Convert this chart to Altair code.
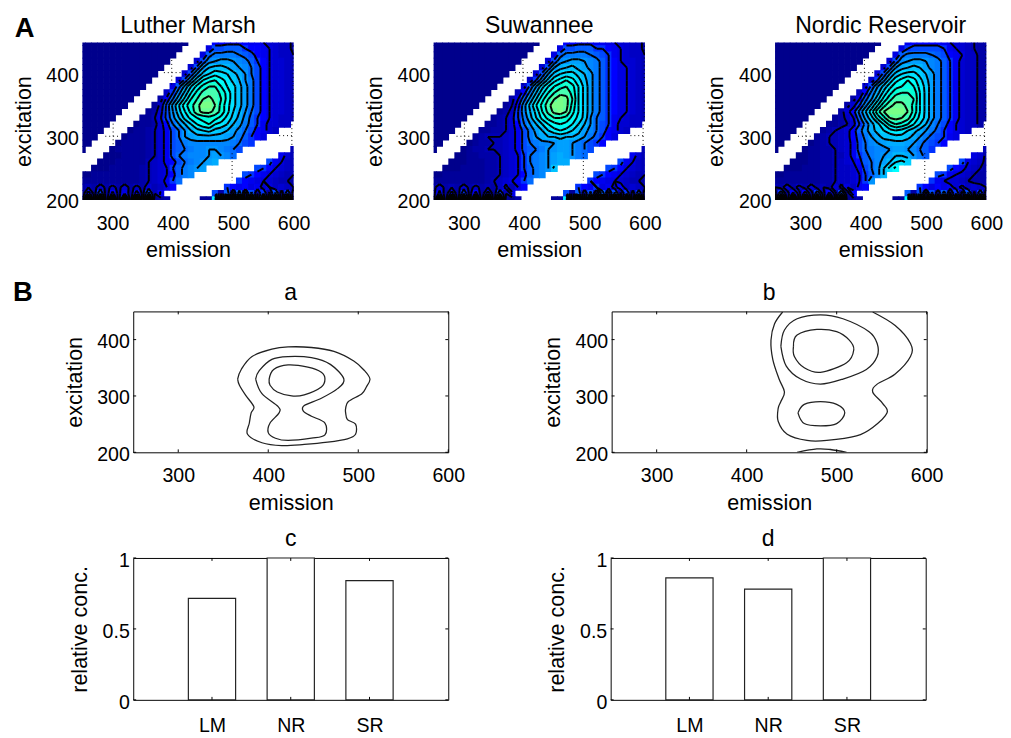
import altair as alt
import pandas as pd

alt.data_transformers.disable_max_rows()

FONT = "Liberation Sans"
EMISSION = list(range(250, 601, 10))
EXCITATION = list(range(450, 199, -10))
CODES = "0123456789abcdefghijklmnopqrstuvwxyz"
LEVELS = [3, 6, 9, 12, 15, 18, 21, 24, 27, 30, 33]

# one row per excitation (450 ... 200), one code per emission (250 ... 600); "." = masked scatter
LUTHER = [
    "00000 00000 00000 000.. ..888 88877 65544 2",
    "00000 00000 00000 00... .6aab bb988 76544 2",
    "00000 00000 00000 0.... 6bddd dcba8 76544 3",
    "00000 00000 00000 ....5 aefgg fedb9 86554 3",
    "00000 00000 0000. ...5a fijji gfeca 86554 3",
    "00000 00000 000.. ..5af jlnml jhfca 86554 3",
    "00000 00000 00... .5afk oqrpn kifda 86554 3",
    "00000 00000 0.... 6bglp suuro mjgda 86554 3",
    "00000 00000 ....4 9ejos vwwtq mjgda 86554 3",
    "00000 0000. ...27 chmru xywuq mjgda 86554 3",
    "00000 000.. ..14a glqtw zzxtp mjgda 86554 3",
    "00000 00... .125a fkosw yywtp lifca 86554 3",
    "00000 0.... 1136a eimpr stsqn kheb9 86544 3",
    "00000 ....0 11258 cfilo qronl igdb9 75544 .",
    "0000. ...01 12357 acfik lmkji geca8 754.. .",
    "000.. ..011 12357 acfgh hhhhg fdb98 6.... .",
    "00... .0111 12357 abdee eeeee dca9. ..... .",
    "0.... 01111 12357 abcde effed ca... ..... 3",
    "....0 00111 12357 acdee efgfe c.... ...75 3",
    "...00 01111 13457 8acde fgh.. ..... .a764 3",
    "..000 11111 23456 9bdef g.... ....a 98654 3",
    "00111 11111 23456 8bde. ..... ..a98 76543 3",
    "11111 11111 23457 9c... ..... .9876 65433 2",
    "23252 42524 25346 8.... ....9 87867 56454 3",
    "18291 72618 2a37. ..... ..a2b 2b1a3 92a19 1",
    "0n1p0 m0n1o 0n012 ..... 11n0p 0m1n0 p0n1m 0",
]
SUWANNEE = [
    "00000 00000 00000 000.. ..888 88776 65544 2",
    "00000 00000 00000 00... .6aab bb998 76544 2",
    "00000 00000 00000 0.... 6bddd dcba9 76544 3",
    "00000 00000 00000 ....5 aefgg fedb9 86554 3",
    "00000 00000 0000. ...5a fhijh gedb9 86654 3",
    "00000 00000 000.. ..5af jlmmk igdb9 86654 3",
    "00000 00000 00... .49ej nprpm jgdb9 86654 3",
    "00000 00000 0.... 5afko rtuso kgdb9 86654 3",
    "00000 00000 ....3 8dinr uwwto kgdb9 86654 3",
    "00000 0000. ...26 bglqu xzyuo kgdb9 86654 3",
    "00000 000.. ..138 ejosw zzyto kgdb9 86654 3",
    "00000 00... .1249 eimrv yzxso kgdb9 86654 3",
    "00000 0.... 12359 dhlps uutqn kfcb9 76544 3",
    "00000 ....1 12358 cfilo qrqol ifca9 75544 .",
    "0000. ...11 22357 adgil nonlj geca8 754.. .",
    "000.. ..123 33457 adfhi ijiih fdb98 6.... .",
    "00... .0122 33457 acdee fggfd ca98. ..... .",
    "0.... 01223 33457 abcdf fggfd ca... ..... 3",
    "....0 01122 23456 9cdef ghgfd c.... ...75 3",
    "...00 01112 23456 9cdef ghh.. ..... .a764 3",
    "..000 11112 23456 9bdef j.... ....a 98654 3",
    "00111 11112 23456 8bde. ..... ..a98 76543 3",
    "11111 11112 34567 9c... ..... .9876 65433 2",
    "25232 52423 24736 8.... ....9 87967 58454 3",
    "27181 92718 1937. ..... ..a1b 3a2b1 a2919 1",
    "1m0o1 n0p1m 0o102 ..... 11n1m 1p0n1 o1m0n 0",
]
NORDIC = [
    "00000 00000 00000 000.. ..788 88876 55432 2",
    "00000 00000 00000 00... .69aa aaa97 65432 2",
    "00000 00000 00000 0.... 6bddd dcba8 76442 2",
    "00000 00000 00000 ....5 aefgg fedb9 75442 2",
    "00000 00000 0000. ...5a fhiji gedb9 75442 2",
    "00000 00000 000.. ..5af jlmmk igdb9 75442 2",
    "00000 00000 00... .49ej nprpm jgdb9 75442 2",
    "00000 00000 0.... 5afjn qrsrn kgdb9 75442 2",
    "00000 00000 ....3 8dhmq tuuto kgdb9 75442 2",
    "00000 0000. ...26 bfkpt wwwuo kgdb9 75442 2",
    "00000 000.. ..259 ejotw yywto kgdb9 75442 2",
    "00000 00... .258d intxz zzxto kgdb9 75442 2",
    "00000 0.... 1246b gkptx yxvrn kgdb9 75442 2",
    "00000 ....1 12359 dhkos utrol ieca8 65442 .",
    "0000. ...12 3458b ehjln onljh fdb98 654.. .",
    "000.. ..123 3458a dfhjj kkjhf dba97 6.... .",
    "00... .0123 3457a cefgh hhgfd ba98. ..... .",
    "0.... 01122 3457a cdeef ggfec b9... ..... 3",
    "....0 01122 33579 bdefg iihfd b.... ...65 2",
    "...00 01122 34568 bcegi lmk.. ..... .a654 2",
    "..000 11122 34457 aceim p.... ....a 87543 2",
    "00111 11122 34456 9bei. ..... ..a97 65432 2",
    "11111 11122 34456 9f... ..... .9765 54322 2",
    "32524 25232 52647 8.... ....9 86867 57454 3",
    "29172 81927 2a18. ..... ..b2a 1a3b2 91a29 1",
    "0p1n0 o1m0n 1p012 ..... 11p1n 0o1m0 n1p0o 1",
]
# dotted artefact lines inside the masked bands: em1, ex1, em2, ex2
DOTTED = [
    (301, 321, 301, 287), (288, 301, 312, 301), (398, 422, 398, 380), (385, 402, 417, 402),
    (498, 274, 498, 230), (576, 302, 597, 302), (597, 320, 597, 284), (599, 325, 599, 450),
]

# component a
A_OUTER_EM = [366, 370, 382, 404, 422, 448, 473, 495, 507, 513, 509, 504, 489, 486, 486, 488, 497, 497, 488, 466, 440, 415, 393, 377, 379, 381, 384, 375, 368, 366]
A_OUTER_EX = [330, 347, 370, 383, 387, 386, 379, 362, 345, 330, 316, 304, 290, 278, 270, 258, 250, 232, 224, 218, 214, 212, 217, 232, 252, 270, 281, 301, 319, 330]
A_MID_EM = [386, 390, 404, 422, 448, 469, 484, 477, 459, 440, 439, 448, 463, 463, 448, 422, 408, 400, 402, 412, 411, 393, 386]
A_MID_EX = [330, 345, 365, 370, 368, 356, 330, 313, 296, 283, 273, 264, 252, 231, 225, 221, 225, 235, 252, 270, 281, 304, 330]
A_IN_EM = [401, 406, 422, 444, 459, 463, 459, 440, 426, 410, 402, 401]
A_IN_EX = [330, 347, 355, 351, 342, 330, 316, 302, 300, 307, 319, 330]
# component b
B_OUTER_EM = [440, 431, 427, 429, 436, 442, 438, 435, 435, 445, 467, 489, 522, 540, 556, 551, 540, 545, 565, 582, 582, 565, 540]
B_OUTER_EX = [449, 428, 399, 365, 330, 307, 290, 278, 255, 232, 221, 221, 229, 244, 270, 287, 307, 321, 339, 370, 393, 425, 449]
B_MID_EM = [438, 442, 456, 482, 507, 536, 545, 545, 533, 507, 482, 460, 444, 438]
B_MID_EX = [388, 417, 437, 444, 437, 414, 393, 370, 347, 330, 321, 330, 353, 388]
B_IN_EM = [452, 456, 478, 500, 514, 519, 511, 482, 464, 453, 452]
B_IN_EX = [388, 408, 418, 414, 399, 382, 359, 342, 350, 370, 388]
B_LOBE_EM = [457, 464, 482, 500, 509, 500, 482, 464, 457]
B_LOBE_EX = [270, 285, 290, 285, 270, 251, 247, 251, 270]
B_ARC_EM = [456, 478, 493, 511]
B_ARC_EX = [200, 206, 205, 200]

BAR_LABELS = ["LM", "NR", "SR"]
BARS_C = [0.715, 1.0, 0.84]
BARS_D = [0.86, 0.78, 1.0]


def grid(rows):
    out = []
    for r in rows:
        s = r.replace(" ", "")
        s = (s + "." * 36)[:36]
        out.append([None if ch == "." else CODES.index(ch) for ch in s])
    return out


def contour_segments(g):
    segs = []
    for j in range(len(g) - 1):
        for i in range(len(g[0]) - 1):
            a, b, c, d = g[j][i], g[j][i + 1], g[j + 1][i + 1], g[j + 1][i]
            if None in (a, b, c, d):
                continue
            x0, x1 = EMISSION[i], EMISSION[i + 1]
            y0, y1 = EXCITATION[j], EXCITATION[j + 1]
            for L in LEVELS:
                pts = []
                if (a >= L) != (b >= L):
                    pts.append((x0 + (L - a) / (b - a) * (x1 - x0), y0))
                if (b >= L) != (c >= L):
                    pts.append((x1, y0 + (L - b) / (c - b) * (y1 - y0)))
                if (c >= L) != (d >= L):
                    pts.append((x1 + (L - c) / (d - c) * (x0 - x1), y1))
                if (d >= L) != (a >= L):
                    pts.append((x0, y1 + (L - d) / (a - d) * (y0 - y1)))
                for k in range(0, len(pts) - 1, 2):
                    segs.append({"x": pts[k][0], "y": pts[k][1], "x2": pts[k + 1][0], "y2": pts[k + 1][1]})
    return pd.DataFrame(segs)


def cells(g):
    rec = []
    for j, row in enumerate(g):
        for i, v in enumerate(row):
            if v is not None:
                rec.append({"x": EMISSION[i] - 5.6, "x2": EMISSION[i] + 5.6,
                            "y": EXCITATION[j] - 5.6, "y2": EXCITATION[j] + 5.6, "c": v})
    return pd.DataFrame(rec)


X_SCALE = alt.Scale(domain=[250, 600], nice=False, zero=False)
Y_SCALE = alt.Scale(domain=[200, 450], nice=False, zero=False)
JET = alt.Scale(domain=[0, 8, 25, 35], range=["#00008c", "#0000ff", "#00ffff", "#78ff88"])


def x_axis(title="emission", values=(300, 400, 500, 600), label_pad=14, **kw):
    return alt.Axis(values=list(values), title=title, domain=False, ticks=False, grid=False,
                    labelFont=FONT, labelFontSize=20, labelColor="black", labelPadding=label_pad, labelAngle=0,
                    labelOverlap=False, labelFlush=False, labelBound=False, titleFont=FONT, titleFontSize=22,
                    titleFontWeight="normal", titleColor="black", titlePadding=7, **kw)


def y_axis(title="excitation", values=(200, 300, 400), offset=2, **kw):
    return alt.Axis(values=list(values), title=title, domain=False, ticks=False, grid=False,
                    labelFont=FONT, labelFontSize=20, labelColor="black", labelPadding=4, labelOffset=offset,
                    labelOverlap=False, labelFlush=False, labelBound=False, titleFont=FONT, titleFontSize=22,
                    titleFontWeight="normal", titleColor="black", titlePadding=11, **kw)


EEM_X = x_axis()
EEM_Y = y_axis()
BAR_AX_X = x_axis(title=None, values=(1, 2, 3), label_pad=16,
                  labelExpr="datum.value==1?'%s':datum.value==2?'%s':'%s'" % tuple(BAR_LABELS))
BAR_AX_Y = y_axis(title="relative conc.", values=(0, 0.5, 1), offset=3, format="~g")


def caption(text, w, dy):
    return alt.Chart(pd.DataFrame({"t": [text]})).mark_text(
        font=FONT, fontSize=23.5, align="center", baseline="alphabetic", color="black"
    ).encode(x=alt.value(w / 2), y=alt.value(dy), text="t:N")


def letter(text, dx, dy):
    return alt.Chart(pd.DataFrame({"t": [text]})).mark_text(
        font=FONT, fontSize=28, fontWeight="bold", align="left", baseline="alphabetic", color="black"
    ).encode(x=alt.value(dx), y=alt.value(dy), text="t:N")


def eem(name, rows, extra=None):
    g = grid(rows)
    base = alt.Chart(cells(g)).mark_rect(clip=True).encode(
        x=alt.X("x:Q", scale=X_SCALE, axis=EEM_X),
        x2="x2:Q",
        y=alt.Y("y:Q", scale=Y_SCALE, axis=EEM_Y),
        y2="y2:Q",
        color=alt.Color("c:Q", scale=JET, legend=None),
    )
    lines = alt.Chart(contour_segments(g)).mark_rule(color="black", strokeWidth=2, clip=True).encode(
        x=alt.X("x:Q", scale=X_SCALE, axis=EEM_X), x2="x2:Q",
        y=alt.Y("y:Q", scale=Y_SCALE, axis=EEM_Y), y2="y2:Q",
    )
    dots = alt.Chart(pd.DataFrame(DOTTED, columns=["x", "y", "x2", "y2"])).mark_rule(
        color="black", strokeWidth=1, strokeDash=[1, 3], clip=True
    ).encode(
        x=alt.X("x:Q", scale=X_SCALE, axis=EEM_X), x2="x2:Q",
        y=alt.Y("y:Q", scale=Y_SCALE, axis=EEM_Y), y2="y2:Q",
    )
    layers = [base, lines, dots, caption(name, 216, -10)]
    if extra is not None:
        layers.append(extra)
    return alt.layer(*layers).properties(width=216, height=161)


def inward_ticks(xs, ys, x_scale, y_scale, x_ax, y_ax, w, h):
    top = pd.DataFrame({"t": xs})
    side = pd.DataFrame({"t": ys})
    out = []
    for a, b in ((h, h - 3), (0, 3)):
        out.append(alt.Chart(top).mark_rule(color="black", strokeWidth=1).encode(
            x=alt.X("t:Q", scale=x_scale, axis=x_ax), y=alt.value(a), y2=alt.value(b)))
    for a, b in ((0, 3), (w, w - 3)):
        out.append(alt.Chart(side).mark_rule(color="black", strokeWidth=1).encode(
            y=alt.Y("t:Q", scale=y_scale, axis=y_ax), x=alt.value(a), x2=alt.value(b)))
    return out


FRAME = alt.ViewBackground(stroke="black", strokeWidth=1)


def loops(named):
    rec = []
    for n, (ems, exs) in enumerate(named):
        for i, (a, b) in enumerate(zip(ems, exs)):
            rec.append({"loop": n, "i": i, "em": a, "ex": b})
    return pd.DataFrame(rec)


def component(name, named, extra=None):
    line = alt.Chart(loops(named)).mark_line(color="#222222", strokeWidth=1.3, clip=True, interpolate="cardinal").encode(
        x=alt.X("em:Q", scale=X_SCALE, axis=EEM_X),
        y=alt.Y("ex:Q", scale=Y_SCALE, axis=EEM_Y),
        detail="loop:N",
        order="i:Q",
    )
    layers = [line] + inward_ticks([300, 400, 500, 600], [200, 300, 400], X_SCALE, Y_SCALE, EEM_X, EEM_Y, 322, 144)
    layers.append(caption(name, 322, -12))
    if extra is not None:
        layers.append(extra)
    return alt.layer(*layers).properties(width=322, height=144, view=FRAME)


BAR_X = alt.Scale(domain=[0, 4], nice=False, zero=False)
BAR_Y = alt.Scale(domain=[0, 1], nice=False)


def bars(name, values):
    df = pd.DataFrame({"p1": [i + 0.7 for i in range(3)], "p2": [i + 1.3 for i in range(3)], "v": values})
    bar = alt.Chart(df).mark_rect(fill="white", stroke="#222222", strokeWidth=1.2).encode(
        x=alt.X("p1:Q", scale=BAR_X, axis=BAR_AX_X),
        x2="p2:Q",
        y=alt.Y("v:Q", scale=BAR_Y, axis=BAR_AX_Y),
        y2=alt.datum(0),
    )
    layers = [bar] + inward_ticks([1, 2, 3], [0, 0.5, 1], BAR_X, BAR_Y, BAR_AX_X, BAR_AX_Y, 322, 145)
    layers.append(caption(name, 322, -12))
    return alt.layer(*layers).properties(width=322, height=145, view=FRAME)


def spacer(w):
    return alt.Chart(pd.DataFrame({"a": [0]})).mark_point(opacity=0).encode(
        x=alt.value(0), y=alt.value(0)).properties(width=w, height=1)


row_a = alt.hconcat(
    spacer(1),
    alt.hconcat(
        alt.hconcat(eem("Luther Marsh", LUTHER, letter("A", -69, -6)), eem("Suwannee", SUWANNEE), spacing=54),
        eem("Nordic Reservoir", NORDIC), spacing=44),
    spacing=0,
)
row_b = alt.hconcat(
    spacer(1),
    alt.hconcat(
        component("a", [(A_OUTER_EM, A_OUTER_EX), (A_MID_EM, A_MID_EX), (A_IN_EM, A_IN_EX)], letter("B", -123, -11)),
        component("b", [(B_OUTER_EM, B_OUTER_EX), (B_MID_EM, B_MID_EX), (B_IN_EM, B_IN_EX),
                        (B_LOBE_EM, B_LOBE_EX), (B_ARC_EM, B_ARC_EX)]),
        spacing=77),
    spacing=0,
)
row_c = alt.hconcat(
    spacer(60),
    alt.hconcat(bars("c", BARS_C), bars("d", BARS_D), spacing=98),
    spacing=0,
)
chart = alt.vconcat(
    alt.vconcat(row_a, row_b, spacing=18),
    row_c, spacing=13,
).properties(
    padding={"left": -2, "top": -2, "right": 0, "bottom": 0},
    background="white",
).configure_view(strokeWidth=0)

chart.save("out.html", embed_options={"renderer": "svg", "actions": False})
